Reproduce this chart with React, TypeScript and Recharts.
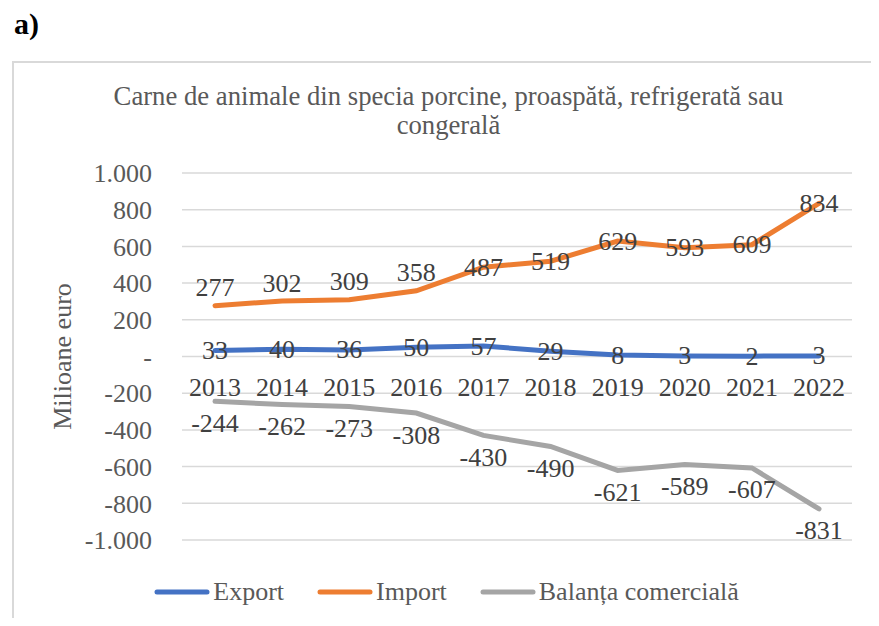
import React from 'react';
import { LineChart, Line, XAxis, YAxis, CartesianGrid, Legend, LabelList } from 'recharts';

const years = ['2013', '2014', '2015', '2016', '2017', '2018', '2019', '2020', '2021', '2022'];
const exportValues = [33, 40, 36, 50, 57, 29, 8, 3, 2, 3];
const importValues = [277, 302, 309, 358, 487, 519, 629, 593, 609, 834];
const balanceValues = [-244, -262, -273, -308, -430, -490, -621, -589, -607, -831];
const yTicks = [-1000, -800, -600, -400, -200, 0, 200, 400, 600, 800, 1000];

const data = years.map((year, i) => ({
  year,
  export: exportValues[i],
  import: importValues[i],
  balance: balanceValues[i],
}));

const FONT = 'Liberation Serif, Tinos, Times New Roman, DejaVu Serif, serif';
const CHART_W = 865;
const CHART_H = 565;
const MARGIN = { top: 112, right: 25, bottom: 26, left: 0 };
const PLOT_H = CHART_H - MARGIN.top - 86;
const ZERO_Y = MARGIN.top + PLOT_H / 2;

const series = [
  { key: 'export', name: 'Export', color: '#4472C4' },
  { key: 'import', name: 'Import', color: '#ED7D31' },
  { key: 'balance', name: 'Balanța comercială', color: '#A5A5A5' },
];

const fmt = (v: number) => {
  if (v === 0) return '-';
  const a = Math.abs(v);
  const s = a >= 1000 ? `${Math.floor(a / 1000)}.${String(a % 1000).padStart(3, '0')}` : String(a);
  return v < 0 ? `-${s}` : s;
};

const YearTick = (props: any) => {
  const { x, payload } = props;
  return (
    <text x={x} y={ZERO_Y + 31} textAnchor="middle" dominantBaseline="central" fill="#404040" fontSize={26} fontFamily={FONT}>
      {payload.value}
    </text>
  );
};

const makeLabel = (dyFor: (i: number) => number) => (props: any) => {
  const { x, y, value, index } = props;
  return (
    <text x={x} y={y + dyFor(index)} textAnchor="middle" dominantBaseline="central" fill="#404040" fontSize={26} fontFamily={FONT}>
      {value}
    </text>
  );
};

const LegendContent = () => (
  <div style={{ display: 'flex', justifyContent: 'center', alignItems: 'center', height: 30, paddingLeft: 4, fontFamily: FONT, fontSize: 26, color: '#595959' }}>
    {series.map((s, i) => (
      <div key={s.key} style={{ display: 'flex', alignItems: 'center', marginLeft: i === 0 ? 0 : 33 }}>
        <svg width={56} height={10} style={{ marginRight: 3 }}>
          <line x1={3} y1={5} x2={53} y2={5} stroke={s.color} strokeWidth={5} strokeLinecap="round" />
        </svg>
        <span>{s.name}</span>
      </div>
    ))}
  </div>
);

export default function App() {
  return (
    <div style={{ position: 'relative', width: 879, height: 626, margin: -8, overflow: 'hidden', background: '#fff', fontFamily: FONT }}>
      <div style={{ position: 'absolute', left: 14, top: 9, fontSize: 30, fontWeight: 'bold', lineHeight: 1, color: '#000' }}>a)</div>
      <div style={{ position: 'absolute', left: 12, top: 61, width: CHART_W, height: 600, border: '2px solid #D9D9D9', boxSizing: 'border-box' }} />
      <div style={{ position: 'absolute', left: 16, top: 82, width: CHART_W, textAlign: 'center', fontSize: 26.7, lineHeight: '29px', color: '#595959' }}>
        Carne de animale din specia porcine, proaspătă, refrigerată sau
        <br />
        congerală
      </div>
      <div style={{ position: 'absolute', left: 12, top: 61 }}>
        <LineChart width={CHART_W} height={CHART_H} data={data} margin={MARGIN} style={{ fontFamily: FONT }}>
          <CartesianGrid vertical={false} stroke="#D9D9D9" strokeWidth={1.5} />
          <XAxis
            dataKey="year"
            axisLine={false}
            tickLine={false}
            height={30}
            tick={<YearTick />}
            interval={0}
            padding={{ left: 33, right: 33 }}
          />
          <YAxis
            domain={[-1000, 1000]}
            ticks={yTicks}
            tickFormatter={fmt}
            width={170}
            axisLine={false}
            tickLine={false}
            tickSize={0}
            tickMargin={30}
            tick={{ fill: '#595959', fontSize: 26, fontFamily: FONT }}
            label={(p: any) => {
              const vb = p.viewBox || { x: 0, y: MARGIN.top, height: PLOT_H };
              const cx = vb.x + 50;
              const cy = vb.y + vb.height / 2;
              return (
                <text x={cx} y={cy} transform={`rotate(-90 ${cx} ${cy})`} textAnchor="middle" dominantBaseline="central" fill="#595959" fontSize={26} fontFamily={FONT}>
                  Milioane euro
                </text>
              );
            }}
          />
          <Legend verticalAlign="bottom" content={<LegendContent />} wrapperStyle={{ left: 0, width: CHART_W, bottom: 19 }} />
          <Line type="linear" dataKey="export" name="Export" stroke="#4472C4" strokeWidth={5} strokeLinecap="round" dot={false} isAnimationActive={false}>
            <LabelList dataKey="export" content={makeLabel(() => 0)} />
          </Line>
          <Line type="linear" dataKey="import" name="Import" stroke="#ED7D31" strokeWidth={5} strokeLinecap="round" dot={false} isAnimationActive={false}>
            <LabelList dataKey="import" content={makeLabel((i) => (i < 4 ? -18 : 0))} />
          </Line>
          <Line type="linear" dataKey="balance" name="Balanța comercială" stroke="#A5A5A5" strokeWidth={5} strokeLinecap="round" dot={false} isAnimationActive={false}>
            <LabelList dataKey="balance" content={makeLabel(() => 22)} />
          </Line>
        </LineChart>
      </div>
    </div>
  );
}
